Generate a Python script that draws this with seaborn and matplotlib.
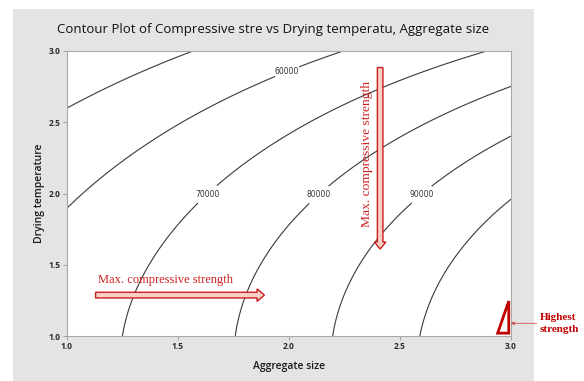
import numpy as np
import matplotlib
matplotlib.use("Agg")
import matplotlib.pyplot as plt
from matplotlib.patches import Rectangle, FancyArrow, Polygon
import seaborn as sns

# ---- data: points lying on each contour ----
c50_x = [1.00, 1.27, 1.57]
c50_y = [2.593, 2.81, 3.00]
c60_x = [1.00, 1.164, 1.344, 1.60, 1.808, 1.995, 2.257]
c60_y = [1.885, 2.13, 2.34, 2.586, 2.738, 2.843, 3.00]
c70_x = [1.239, 1.292, 1.366, 1.464, 1.568, 1.674, 1.868, 2.048, 2.272, 2.43, 2.87]
c70_y = [1.00, 1.253, 1.486, 1.674, 1.861, 2.06, 2.293, 2.457, 2.644, 2.75, 3.00]
c80_x = [1.763, 1.808, 1.868, 1.988, 2.107, 2.18, 2.42, 2.63, 3.00]
c80_y = [1.00, 1.30, 1.51, 1.767, 1.954, 2.06, 2.33, 2.49, 2.75]
c90_x = [2.205, 2.272, 2.384, 2.549, 2.706, 2.856, 2.99]
c90_y = [1.00, 1.35, 1.66, 1.93, 2.118, 2.282, 2.392]
c100_x = [2.59, 2.661, 2.781, 2.90, 2.99]
c100_y = [1.00, 1.35, 1.65, 1.81, 1.94]
levels = [50000, 60000, 70000, 80000, 90000, 100000]
labeled_levels = [60000, 70000, 80000, 90000]
unlabeled_levels = [50000, 100000]
label_pos = [(1.995, 2.843), (1.63, 2.0), (2.13, 2.0), (2.594, 2.0)]
ticks = [1.0, 1.5, 2.0, 2.5, 3.0]

title = "Contour Plot of Compressive stre vs Drying temperatu, Aggregate size"
xlabel = "Aggregate size"
ylabel = "Drying temperature"
arrow_text = "Max. compressive strength"
best_text = "Highest\nstrength"

# ---- smooth response surface through the read contour points (cubic model) ----
pts = []
for lev, xs, ys in zip(levels, [c50_x, c60_x, c70_x, c80_x, c90_x, c100_x],
                       [c50_y, c60_y, c70_y, c80_y, c90_y, c100_y]):
    for a, b in zip(xs, ys):
        pts.append((a, b, lev))
pts = np.array(pts)
X, Y, Zv = pts[:, 0], pts[:, 1], pts[:, 2]


def basis(x, y):
    return [np.ones_like(x), x, y, x**2, y**2, x*y, x**3, y**3, x**2*y, x*y**2]


coef, *_ = np.linalg.lstsq(np.column_stack(basis(X, Y)), Zv, rcond=None)
gx, gy = np.meshgrid(np.linspace(1, 3, 300), np.linspace(1, 3, 300))
GZ = sum(c*b for c, b in zip(coef, basis(gx, gy)))

sns.set_theme(style="white")
plt.rcParams['font.family'] = ['Open Sans', 'DejaVu Sans']

W, H = 584, 381
fig = plt.figure(figsize=(W/100, H/100), dpi=100)
fig.patch.set_facecolor("white")
fig.patches.append(Rectangle((13/W, 0), (534-13)/W, (H-9)/H, transform=fig.transFigure,
                             facecolor="#e4e4e4", edgecolor="none", zorder=-5))

L, R, T, B = 66.7, 511, 51, 336
ax = fig.add_axes([L/W, (H-B)/H, (R-L)/W, (B-T)/H])
ax.set_zorder(2)
ax.set_facecolor("white")
ax.set_xlim(1, 3)
ax.set_ylim(1, 3)

ax.contour(gx, gy, GZ, levels=unlabeled_levels, colors="#3a3a3a", linewidths=0.8)
cs = ax.contour(gx, gy, GZ, levels=labeled_levels, colors="#3a3a3a", linewidths=0.8)
lbl = ax.clabel(cs, manual=label_pos, fmt="%d", fontsize=5.5,
                inline=True, inline_spacing=2, colors="#333333")
for t in lbl:
    t.set_rotation(0)
    t.set_family(['Liberation Sans Narrow', 'DejaVu Sans'])

ax.set_xticks(ticks)
ax.set_yticks(ticks)
ax.set_xticklabels([f"{v:.1f}" for v in ticks])
ax.set_yticklabels([f"{v:.1f}" for v in ticks])
ax.tick_params(axis="both", which="major", direction="out", length=3, width=0.7,
               color="#a0a0a0", labelsize=6, labelcolor="#2a2a2a", pad=1.2,
               bottom=True, left=True)
for lab in ax.get_xticklabels() + ax.get_yticklabels():
    lab.set_fontweight("bold")
for s in ax.spines.values():
    s.set_color("#a8a8a8")
    s.set_linewidth(0.8)

fig.text((13+534)/2/W, 1-29/H, title, ha="center", va="center", fontsize=9.5, color="#111111")
ax.set_xlabel(xlabel, fontsize=7.5, fontweight="semibold", color="#1a1a1a", labelpad=7.5)
ax.set_ylabel(ylabel, fontsize=7.5, fontweight="semibold", color="#1a1a1a", labelpad=3)

red_edge = "#c81e1e"
red_fill = "#f7cfc4"
# horizontal arrow
ax.add_patch(FancyArrow(1.13, 1.287, 1.89-1.13, 0, width=0.040, head_width=0.088,
                        head_length=0.033, length_includes_head=True,
                        fc=red_fill, ec=red_edge, lw=1.0, zorder=5))
ax.text(1.446, 1.39, arrow_text, ha="center", va="center", fontsize=9,
        family="Liberation Serif", color="#cc2222", zorder=6)
# vertical arrow
ax.add_patch(FancyArrow(2.411, 2.884, 0, 1.61-2.884, width=0.025, head_width=0.052,
                        head_length=0.05, length_includes_head=True,
                        fc=red_fill, ec=red_edge, lw=1.0, zorder=5))
ax.text(2.35, 2.274, arrow_text, ha="center", va="center", rotation=90, fontsize=9.7,
        family="Liberation Serif", color="#cc2222", zorder=6)
# highest-strength triangle
ax.add_patch(Polygon([(2.99, 1.245), (2.94, 1.02), (2.99, 1.02)], closed=True,
                     fc="white", ec="#c00000", lw=2.0, zorder=6, clip_on=False))
ax.annotate(best_text, xy=(2.998, 1.089), xycoords="data",
            xytext=(540, H-323.3), textcoords="figure pixels",
            ha="left", va="center", fontsize=8, fontweight="bold",
            family="Liberation Serif", color="#c00000", linespacing=1.45,
            arrowprops=dict(arrowstyle="-|>,head_length=0.25,head_width=0.12",
                            color="#d05050", lw=0.6, relpos=(0, 0.5),
                            shrinkA=0, shrinkB=0), annotation_clip=False)

fig.savefig("out.png", dpi=100)
